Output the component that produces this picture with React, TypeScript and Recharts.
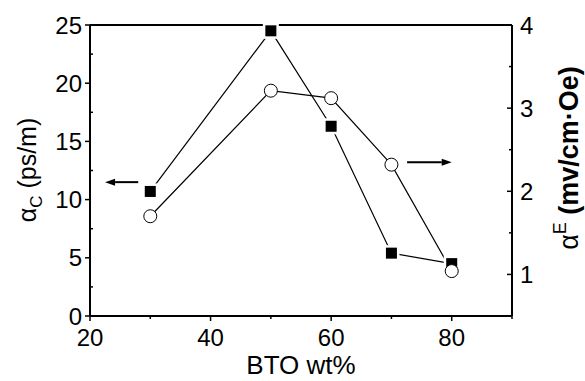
import React from 'react';
import { ComposedChart, Line, XAxis, YAxis, ReferenceLine } from 'recharts';

const btoWt = [30, 50, 60, 70, 80];
const alphaC = [10.7, 24.5, 16.3, 5.4, 4.5];
const alphaE = [1.7, 3.21, 3.12, 2.32, 1.04];

const xTicks = [20, 30, 40, 50, 60, 70, 80, 90];
const xMajor = [20, 40, 60, 80];
const leftTicks = [0, 2.5, 5, 7.5, 10, 12.5, 15, 17.5, 20, 22.5, 25];
const rightTicks = [1, 1.5, 2, 2.5, 3, 3.5, 4];

const data = btoWt.map((x, i) => ({ x, c: alphaC[i], e: alphaE[i] }));

const FONT = '"Liberation Sans", Arial, sans-serif';

const XTick = (props: any) => {
  const { x, y, payload } = props;
  const major = xMajor.includes(payload.value);
  return (
    <g>
      <line x1={x} x2={x} y1={y} y2={y + (major ? 5 : 3)} stroke="#000" strokeWidth={1.5} />
      {major && (
        <text x={x} y={y + 13} dy="0.71em" textAnchor="middle" fontSize={24} fontFamily={FONT} fill="#000">
          {payload.value}
        </text>
      )}
    </g>
  );
};

const LeftTick = (props: any) => {
  const { x, y, payload } = props;
  const major = payload.value % 5 === 0;
  return (
    <g>
      <line x1={major ? x - 5 : x} x2={major ? x : x + 3} y1={y} y2={y} stroke="#000" strokeWidth={1.5} />
      {major && (
        <text x={x - 8} y={y} dy="0.36em" textAnchor="end" fontSize={24} fontFamily={FONT} fill="#000">
          {payload.value}
        </text>
      )}
    </g>
  );
};

const RightTick = (props: any) => {
  const { x, y, payload } = props;
  const major = Number.isInteger(payload.value);
  return (
    <g>
      <line x1={x - (major ? 5 : 3)} x2={x} y1={y} y2={y} stroke="#000" strokeWidth={1.5} />
      {major && (
        <text x={x + 8} y={y} dy="0.36em" textAnchor="start" fontSize={24} fontFamily={FONT} fill="#000">
          {payload.value}
        </text>
      )}
    </g>
  );
};

const SquareDot = (props: any) => {
  const { cx, cy } = props;
  if (cx == null || cy == null) return null;
  return (
    <g>
      <rect x={cx - 8} y={cy - 8} width={16} height={16} fill="#fff" />
      <rect x={cx - 5.5} y={cy - 5.5} width={11} height={11} fill="#000" />
    </g>
  );
};

const CircleDot = (props: any) => {
  const { cx, cy } = props;
  if (cx == null || cy == null) return null;
  return <circle cx={cx} cy={cy} r={6.5} fill="#fff" stroke="#000" strokeWidth={1} />;
};

// horizontal arrow, head at the second point
const Arrow = (props: any) => {
  const { x1, y1, x2, y2 } = props;
  const dir = x2 > x1 ? 1 : -1;
  const head = 10;
  return (
    <g>
      <line x1={x1} y1={y1} x2={x2 - dir * head} y2={y2} stroke="#000" strokeWidth={2} />
      <polygon
        points={`${x2},${y2} ${x2 - dir * head},${y2 - 3.5} ${x2 - dir * head},${y2 + 3.5}`}
        fill="#000"
      />
    </g>
  );
};

const LeftLabel = () => (
  <text transform="translate(36, 170) rotate(-90)" textAnchor="middle" fontSize={25} fontFamily={FONT} fill="#000">
    <tspan>α</tspan>
    <tspan fontSize={17} dy={6}>C</tspan>
    <tspan dy={-6}> (ps/m)</tspan>
  </text>
);

const RightLabel = () => (
  <text transform="translate(578, 158) rotate(-90)" textAnchor="middle" fontSize={27} fontFamily={FONT} fill="#000">
    <tspan>α</tspan>
    <tspan fontSize={18} dy={-12}>E</tspan>
    <tspan dy={12} fontWeight="bold"> (mv/cm·Oe)</tspan>
  </text>
);

export default function App() {
  return (
    <div style={{ position: 'absolute', left: 0, top: 0, width: 585, height: 381, background: '#fff' }}>
      <ComposedChart width={585} height={381} data={data} margin={{ top: 25, right: 0, bottom: 0, left: 0 }}>
        <XAxis
          dataKey="x"
          type="number"
          domain={[20, 90]}
          ticks={xTicks}
          height={65}
          tickSize={0}
          tickMargin={0}
          tickLine={false}
          tick={<XTick />}
          axisLine={{ stroke: '#000', strokeWidth: 2 }}
          label={{ value: 'BTO wt%', position: 'insideBottom', offset: 7, fontSize: 26, fontFamily: FONT, fill: '#000' }}
        />
        <YAxis
          yAxisId="left"
          domain={[0, 25]}
          ticks={leftTicks}
          width={90}
          tickSize={0}
          tickMargin={0}
          tickLine={false}
          tick={<LeftTick />}
          axisLine={{ stroke: '#000', strokeWidth: 2 }}
        />
        <YAxis
          yAxisId="right"
          orientation="right"
          domain={[0.5, 4]}
          ticks={rightTicks}
          width={73}
          tickSize={0}
          tickMargin={0}
          tickLine={false}
          tick={<RightTick />}
          axisLine={{ stroke: '#000', strokeWidth: 2 }}
        />
        <ReferenceLine yAxisId="left" y={25} stroke="#000" strokeWidth={2} />
        <Line
          yAxisId="left"
          dataKey="c"
          stroke="#000"
          strokeWidth={1.2}
          dot={<SquareDot />}
          activeDot={false}
          isAnimationActive={false}
        />
        <Line
          yAxisId="right"
          dataKey="e"
          stroke="#000"
          strokeWidth={1.2}
          dot={<CircleDot />}
          activeDot={false}
          isAnimationActive={false}
        />
        <ReferenceLine
          yAxisId="left"
          segment={[{ x: 28, y: 11.5 }, { x: 22.5, y: 11.5 }]}
          shape={<Arrow />}
        />
        <ReferenceLine
          yAxisId="right"
          segment={[{ x: 72.6, y: 2.35 }, { x: 80, y: 2.35 }]}
          shape={<Arrow />}
        />
      </ComposedChart>
      <svg width={585} height={381} style={{ position: 'absolute', left: 0, top: 0, pointerEvents: 'none' }}>
        <LeftLabel />
        <RightLabel />
      </svg>
    </div>
  );
}
